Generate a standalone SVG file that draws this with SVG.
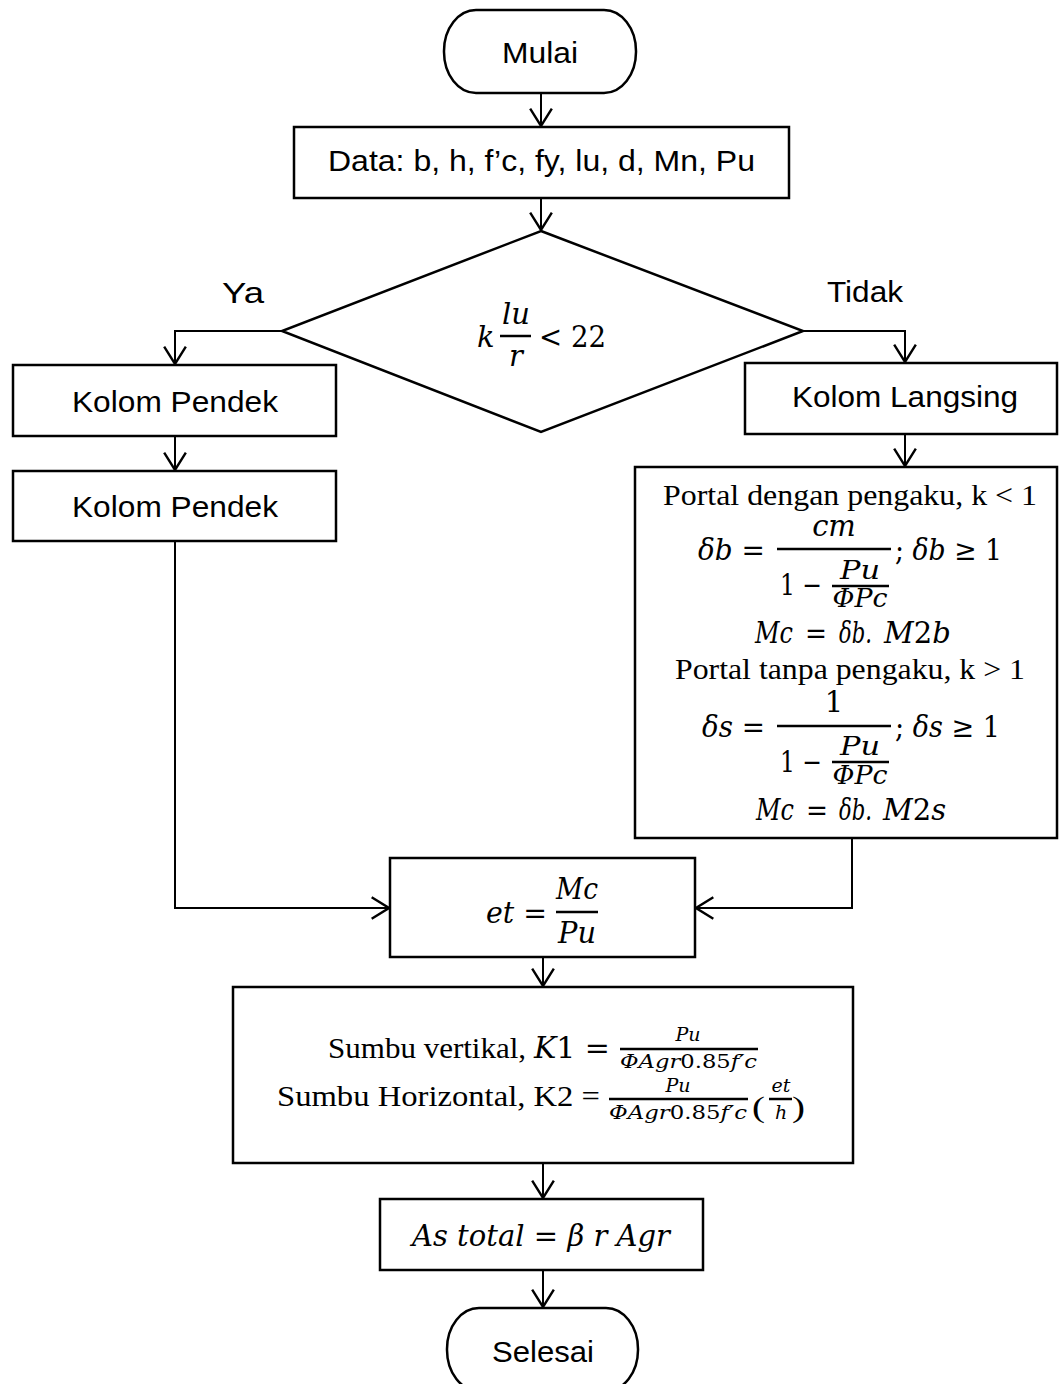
<svg xmlns="http://www.w3.org/2000/svg" width="1059" height="1384" viewBox="0 0 1059 1384">
<style>
.box{fill:#fff;stroke:#000;stroke-width:2.5}
.conn{fill:none;stroke:#000;stroke-width:2}
.bar{stroke:#000;stroke-width:2.5}
.lbl{font-family:"Liberation Sans",Arial,sans-serif;font-size:29px;fill:#000}
.tr{font-family:"Liberation Serif","Times New Roman",serif;font-size:30px;fill:#000}
.m{font-family:"DejaVu Serif","Liberation Serif",serif;font-size:29px;fill:#000}
.mf{font-family:"DejaVu Serif","Liberation Serif",serif;font-size:26px;fill:#000}
.ms{font-family:"DejaVu Serif","Liberation Serif",serif;font-size:19px;fill:#000}
.i{font-style:italic}
</style>
<defs>
<marker id="arr" markerUnits="userSpaceOnUse" markerWidth="22" markerHeight="26" viewBox="-18 -12 20 24" refX="0" refY="0" orient="auto">
<path d="M-16,-10 L0,0 L-16,10" fill="none" stroke="#000" stroke-width="2.2"/>
</marker>
</defs>
<g id="connectors">
<path class="conn" d="M541,93 V126" marker-end="url(#arr)"/>
<path class="conn" d="M541,198 V230" marker-end="url(#arr)"/>
<path class="conn" d="M282,331 H175 V364" marker-end="url(#arr)"/>
<path class="conn" d="M803,331 H905 V362" marker-end="url(#arr)"/>
<path class="conn" d="M175,436 V470" marker-end="url(#arr)"/>
<path class="conn" d="M905,434 V466" marker-end="url(#arr)"/>
<path class="conn" d="M175,541 V908 H389" marker-end="url(#arr)"/>
<path class="conn" d="M852,838 V908 H696" marker-end="url(#arr)"/>
<path class="conn" d="M543,957 V986" marker-end="url(#arr)"/>
<path class="conn" d="M543,1163 V1198" marker-end="url(#arr)"/>
<path class="conn" d="M543,1270 V1307" marker-end="url(#arr)"/>
</g>
<g id="mulai">
<rect class="box" x="444" y="10" width="192" height="83" rx="32" ry="41"/>
<text class="lbl" x="540" y="63" text-anchor="middle" textLength="76" lengthAdjust="spacingAndGlyphs">Mulai</text>
</g>
<g id="data">
<rect class="box" x="294" y="127" width="495" height="71"/>
<text class="lbl" x="541.5" y="171" text-anchor="middle" textLength="427" lengthAdjust="spacingAndGlyphs">Data: b, h, f’c, fy, lu, d, Mn, Pu</text>
</g>
<g id="decision">
<polygon class="box" points="541,231 803,331 541,432 282,331"/>
<text class="m i" x="477" y="347" font-size="31">k</text>
<text class="m i" x="516" y="324" text-anchor="middle" font-size="31">lu</text>
<line class="bar" x1="500" y1="336" x2="531" y2="336"/>
<text class="m i" x="516" y="366" text-anchor="middle" font-size="31">r</text>
<text class="m" x="539" y="347" font-size="31" textLength="67" lengthAdjust="spacingAndGlyphs">&lt; 22</text>
</g>
<g id="label-ya"><text class="lbl" x="243" y="303" text-anchor="middle" textLength="42" lengthAdjust="spacingAndGlyphs">Ya</text></g>
<g id="label-tidak"><text class="lbl" x="865" y="302" text-anchor="middle" textLength="76" lengthAdjust="spacingAndGlyphs">Tidak</text></g>
<g id="kolom-pendek-1">
<rect class="box" x="13" y="365" width="323" height="71"/>
<text class="lbl" x="175" y="412" text-anchor="middle" textLength="206" lengthAdjust="spacingAndGlyphs">Kolom Pendek</text>
</g>
<g id="kolom-pendek-2">
<rect class="box" x="13" y="471" width="323" height="70"/>
<text class="lbl" x="175" y="517" text-anchor="middle" textLength="206" lengthAdjust="spacingAndGlyphs">Kolom Pendek</text>
</g>
<g id="kolom-langsing">
<rect class="box" x="745" y="363" width="312" height="71"/>
<text class="lbl" x="905" y="407" text-anchor="middle" textLength="226" lengthAdjust="spacingAndGlyphs">Kolom Langsing</text>
</g>
<g id="portal">
<rect class="box" x="635" y="467" width="422" height="371"/>
<text class="tr" x="663" y="505" textLength="374" lengthAdjust="spacingAndGlyphs">Portal dengan pengaku, k &lt; 1</text>
<text class="m" x="698" y="560" textLength="67" lengthAdjust="spacingAndGlyphs"><tspan class="i">δb</tspan> =</text>
<text class="m i" x="834" y="536" text-anchor="middle">cm</text>
<line class="bar" x1="777" y1="549" x2="891" y2="549"/>
<text class="m" x="780" y="595" textLength="42" lengthAdjust="spacingAndGlyphs">1 −</text>
<line class="bar" x1="832" y1="586" x2="889" y2="586"/>
<text class="mf i" x="860" y="579" text-anchor="middle" textLength="40" lengthAdjust="spacingAndGlyphs">Pu</text>
<text class="mf i" x="860" y="607" text-anchor="middle" textLength="55" lengthAdjust="spacingAndGlyphs">ΦPc</text>
<text class="m" x="895" y="560" textLength="107" lengthAdjust="spacingAndGlyphs">; <tspan class="i">δb</tspan> ≥ 1</text>
<text class="m i" x="755" y="643" font-size="28" textLength="38" lengthAdjust="spacingAndGlyphs">Mc</text>
<text class="m" x="805" y="643" font-size="28" textLength="22" lengthAdjust="spacingAndGlyphs">=</text>
<text class="m i" x="839" y="643" font-size="28" textLength="33" lengthAdjust="spacingAndGlyphs">δb.</text>
<text class="m" x="884" y="643" font-size="27"><tspan class="i">M</tspan>2<tspan class="i">b</tspan></text>
<text class="tr" x="675" y="679" textLength="350" lengthAdjust="spacingAndGlyphs">Portal tanpa pengaku, k &gt; 1</text>
<text class="m" x="702" y="737" textLength="63" lengthAdjust="spacingAndGlyphs"><tspan class="i">δs</tspan> =</text>
<text class="m" x="834" y="712" text-anchor="middle">1</text>
<line class="bar" x1="777" y1="726" x2="891" y2="726"/>
<text class="m" x="780" y="772" textLength="42" lengthAdjust="spacingAndGlyphs">1 −</text>
<line class="bar" x1="832" y1="762" x2="889" y2="762"/>
<text class="mf i" x="860" y="755" text-anchor="middle" textLength="40" lengthAdjust="spacingAndGlyphs">Pu</text>
<text class="mf i" x="860" y="784" text-anchor="middle" textLength="55" lengthAdjust="spacingAndGlyphs">ΦPc</text>
<text class="m" x="895" y="737" textLength="105" lengthAdjust="spacingAndGlyphs">; <tspan class="i">δs</tspan> ≥ 1</text>
<text class="m i" x="756" y="820" font-size="28" textLength="38" lengthAdjust="spacingAndGlyphs">Mc</text>
<text class="m" x="806" y="820" font-size="28" textLength="22" lengthAdjust="spacingAndGlyphs">=</text>
<text class="m i" x="839" y="820" font-size="28" textLength="33" lengthAdjust="spacingAndGlyphs">δb.</text>
<text class="m" x="883" y="820" font-size="27"><tspan class="i">M</tspan>2<tspan class="i">s</tspan></text>
</g>
<g id="et">
<rect class="box" x="390" y="858" width="305" height="99"/>
<text class="m" x="486" y="923" font-size="31" textLength="61" lengthAdjust="spacingAndGlyphs"><tspan class="i">et</tspan> =</text>
<line class="bar" x1="556" y1="912" x2="598" y2="912"/>
<text class="m i" x="577" y="899" text-anchor="middle" font-size="31" textLength="42" lengthAdjust="spacingAndGlyphs">Mc</text>
<text class="m i" x="577" y="943" text-anchor="middle" font-size="31" textLength="38" lengthAdjust="spacingAndGlyphs">Pu</text>
</g>
<g id="k-factors">
<rect class="box" x="233" y="987" width="620" height="176"/>
<text class="tr" x="328" y="1058" textLength="282" lengthAdjust="spacingAndGlyphs">Sumbu vertikal, <tspan class="m i" font-size="29">K</tspan><tspan class="m" font-size="29">1 =</tspan></text>
<text class="ms i" x="688" y="1041" text-anchor="middle">Pu</text>
<line class="bar" x1="620" y1="1049" x2="758" y2="1049"/>
<text class="ms" x="620" y="1068" textLength="137" lengthAdjust="spacingAndGlyphs"><tspan class="i">ΦAgr</tspan>0.85<tspan class="i">f′c</tspan></text>
<text class="tr" x="277" y="1106" textLength="323" lengthAdjust="spacingAndGlyphs">Sumbu Horizontal, K2 =</text>
<text class="ms i" x="678" y="1092" text-anchor="middle">Pu</text>
<line class="bar" x1="609" y1="1099" x2="748" y2="1099"/>
<text class="ms" x="609" y="1119" textLength="138" lengthAdjust="spacingAndGlyphs"><tspan class="i">ΦAgr</tspan>0.85<tspan class="i">f′c</tspan></text>
<text class="tr" x="752" y="1117" font-size="56" textLength="13" lengthAdjust="spacingAndGlyphs">(</text>
<text class="ms i" x="781" y="1092" text-anchor="middle">et</text>
<line class="bar" x1="769" y1="1099" x2="792" y2="1099"/>
<text class="ms i" x="781" y="1119" text-anchor="middle">h</text>
<text class="tr" x="792" y="1117" font-size="56" textLength="13" lengthAdjust="spacingAndGlyphs">)</text>
</g>
<g id="as-total">
<rect class="box" x="380" y="1199" width="323" height="71"/>
<text class="m" x="412" y="1246" textLength="258" lengthAdjust="spacingAndGlyphs"><tspan class="i">As total</tspan> = <tspan class="i">β r Agr</tspan></text>
</g>
<g id="selesai">
<rect class="box" x="447" y="1308" width="191" height="83" rx="32" ry="41"/>
<text class="lbl" x="543" y="1362" text-anchor="middle" textLength="102" lengthAdjust="spacingAndGlyphs">Selesai</text>
</g>
</svg>
